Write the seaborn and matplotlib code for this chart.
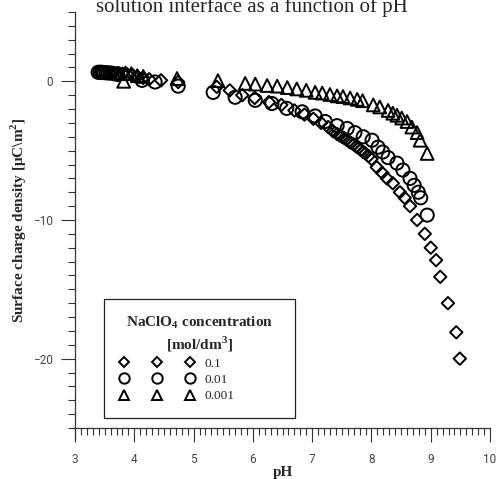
import seaborn as sns
import numpy as np
import matplotlib.pyplot as plt
from matplotlib.lines import Line2D

sns.set_style("ticks")
plt.rcParams['font.family'] = ['Liberation Serif', 'DejaVu Sans']

# NaClO4 0.1 mol/dm3 (diamonds)
ph_01 = [3.45, 3.52, 3.58, 3.65, 3.72, 3.80, 3.88, 3.97, 4.05, 4.15, 4.25, 4.45,
         4.74, 5.39, 5.61, 5.82, 6.03, 6.27, 6.48, 6.70, 6.87, 7.02, 7.15, 7.27,
         7.35, 7.42, 7.46, 7.50, 7.54, 7.58, 7.62, 7.66, 7.70, 7.74, 7.78, 7.82,
         7.86, 7.90, 7.95, 8.00, 8.09, 8.18, 8.26, 8.36, 8.48, 8.56, 8.65, 8.77,
         8.90, 9.00, 9.09, 9.16, 9.29, 9.43, 9.49]
q_01 = [0.60, 0.62, 0.62, 0.60, 0.60, 0.55, 0.50, 0.45, 0.35, 0.25, 0.15, 0.07,
        -0.05, -0.40, -0.65, -1.00, -1.20, -1.50, -1.70, -2.10, -2.40, -2.70, -3.00, -3.30,
        -3.60, -3.80, -3.90, -4.00, -4.10, -4.20, -4.35, -4.45, -4.55, -4.70, -4.80, -4.95,
        -5.10, -5.20, -5.40, -5.60, -6.20, -6.60, -7.00, -7.35, -8.00, -8.40, -9.00, -10.00,
        -11.00, -12.00, -12.90, -14.10, -16.00, -18.10, -20.00]

# NaClO4 0.01 mol/dm3 (circles)
ph_001 = [3.39, 3.42, 3.45, 3.48, 3.52, 3.56, 3.60, 3.66, 3.72, 4.13, 4.35, 4.74,
          5.33, 5.70, 6.04, 6.32, 6.57, 6.83, 7.05, 7.22, 7.42, 7.59, 7.72, 7.86,
          8.01, 8.11, 8.19, 8.28, 8.43, 8.53, 8.65, 8.72, 8.79, 8.83, 8.94]
q_001 = [0.65, 0.65, 0.65, 0.63, 0.62, 0.60, 0.60, 0.55, 0.50, 0.07, -0.05, -0.35,
         -0.80, -1.15, -1.37, -1.60, -1.95, -2.20, -2.50, -2.90, -3.20, -3.40, -3.70, -4.00,
         -4.25, -4.75, -5.10, -5.50, -5.90, -6.40, -7.00, -7.50, -8.00, -8.40, -9.65]

# NaClO4 0.001 mol/dm3 (triangles)
ph_0001 = [3.75, 3.85, 3.95, 4.05, 4.15, 3.82, 4.72, 5.41, 5.87, 6.04, 6.24, 6.41,
           6.58, 6.74, 6.90, 7.05, 7.17, 7.30, 7.42, 7.52, 7.64, 7.76, 7.85, 8.03,
           8.14, 8.28, 8.36, 8.43, 8.51, 8.60, 8.68, 8.77, 8.82, 8.94]
q_0001 = [0.55, 0.60, 0.55, 0.40, 0.35, 0.00, 0.20, 0.05, -0.15, -0.20, -0.30, -0.35,
          -0.45, -0.55, -0.65, -0.80, -0.85, -0.95, -1.05, -1.10, -1.20, -1.30, -1.40, -1.70,
          -1.85, -2.10, -2.30, -2.45, -2.65, -2.90, -3.30, -3.70, -4.25, -5.20]

conc_labels = ['0.1', '0.01', '0.001']

fig = plt.figure(figsize=(4.97, 4.79), dpi=100)
ax = fig.add_axes([0.151, 0.1065, 0.835, 0.8685])

mk = dict(facecolor='none', edgecolor='black', linewidth=1.4, ax=ax, legend=False, zorder=3)
sns.scatterplot(x=ph_01, y=q_01, marker='D', s=40, **mk)
sns.scatterplot(x=ph_001, y=q_001, marker='o', s=90, **mk)
sns.scatterplot(x=ph_0001, y=q_0001, marker='^', s=85, **mk)

ax.set_xlim(3, 10)
ax.set_ylim(-25, 5)
ax.set_xticks(range(3, 11))
ax.set_xticks(np.arange(3, 10.01, 0.1), minor=True)
ax.set_yticks([-20, -10, 0])
ax.set_yticks(range(-25, 6), minor=True)
for s in ['top', 'right']:
    ax.spines[s].set_visible(False)
for s in ['left', 'bottom']:
    ax.spines[s].set_color('#333333')
    ax.spines[s].set_linewidth(0.9)
ax.spines['bottom'].set_bounds(2.95, 10)
ax.spines['left'].set_bounds(-25.7, 5)
ax.tick_params(which='major', length=10, width=0.8, color='#333333', pad=6,
               labelsize=8.5, labelcolor='#444444', labelfontfamily='Roboto')
ax.tick_params(which='minor', length=5, width=0.8, color='#333333')
ax.tick_params(axis='x', which='major', pad=8)

ax.set_xlabel('pH', fontweight='bold', fontsize=11, labelpad=0)
ax.set_ylabel('Surface charge density [$\\mathregular{\\mu}$C\\m$^{\\mathregular{2}}$]',
              fontweight='bold', fontsize=11, labelpad=3)

fig.text(0.507, 0.975, 'solution interface as a function of pH', fontsize=15,
         ha='center', va='baseline')

handles = [
    Line2D([], [], marker='D', ls='none', mfc='none', mec='black', mew=1.4, ms=5),
    Line2D([], [], marker='o', ls='none', mfc='none', mec='black', mew=1.4, ms=7.5),
    Line2D([], [], marker='^', ls='none', mfc='none', mec='black', mew=1.4, ms=7),
]
leg = ax.legend(handles, conc_labels, numpoints=3, loc='lower left',
                bbox_to_anchor=(0.07, 0.024, 0.46, 0.3), mode='expand', borderaxespad=0,
                title='NaClO$_{\\mathregular{4}}$ concentration\n[mol/dm$^{\\mathregular{3}}$]',
                title_fontproperties={'family': 'Liberation Serif', 'weight': 'bold', 'size': 11},
                prop={'family': 'Liberation Serif', 'size': 9.5},
                handlelength=5.6, handletextpad=0.8, labelspacing=0.3, borderpad=1.2,
                fancybox=False, framealpha=1, edgecolor='#222222')
leg.get_title().set_multialignment('center')
leg.get_frame().set_linewidth(0.9)

fig.savefig('out.png', dpi=100)
